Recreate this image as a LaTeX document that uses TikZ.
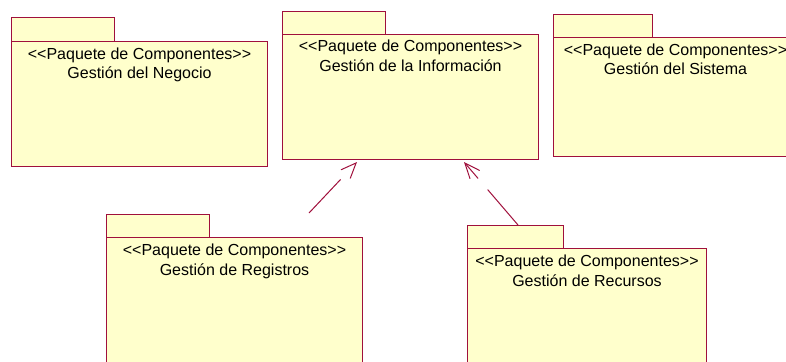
\documentclass[tikz,border=0pt]{standalone}
\usepackage{fontspec}
\setmainfont{Liberation Sans}[Ligatures=NoCommon]
\usetikzlibrary{arrows.meta,calc}
\definecolor{pkgfill}{HTML}{FFFFCC}
\definecolor{pkgline}{HTML}{A0103C}
\newcommand{\stereo}{{<}{<}Paquete de Componentes{>}{>}}
\tikzset{
  pkgbody/.style={draw=pkgline, fill=pkgfill, line width=0.75pt, inner sep=0pt, anchor=north west},
  pkgtab/.style={draw=pkgline, fill=pkgfill, line width=0.75pt},
  pkgtext/.style={anchor=base, inner sep=0pt, font=\fontsize{12pt}{14pt}\selectfont},
  dep/.style={draw=pkgline, line width=0.75pt, -{Straight Barb[length=11.5pt,width=9.5pt,line width=0.75pt]}},
}
\begin{document}
\begin{tikzpicture}[x=0.75pt,y=-0.75pt]
\useasboundingbox (0,0) rectangle (786,361);
\clip (0,0) rectangle (786,361);
% Gestion del Negocio
\draw[pkgtab] (11,17) rectangle (114,41);
\node[pkgbody, minimum width=192pt, minimum height=93.75pt] (P1) at (11,41) {};
\node[pkgtext] (P1s) at ($(P1.north)+(0,18)$) {\stereo};
\node[pkgtext] (P1n) at ($(P1.north)+(0,37)$) {Gestión del Negocio};
% Gestion de la Informacion
\draw[pkgtab] (282,11) rectangle (385,34);
\node[pkgbody, minimum width=192pt, minimum height=93.75pt] (P2) at (282,34) {};
\node[pkgtext] (P2s) at ($(P2.north)+(0,17.5)$) {\stereo};
\node[pkgtext] (P2n) at ($(P2.north)+(0,37)$) {Gestión de la Información};
% Gestion del Sistema
\draw[pkgtab] (553,14) rectangle (652,37);
\node[pkgbody, minimum width=183pt, minimum height=89.25pt] (P3) at (553,37) {};
\node[pkgtext] (P3s) at ($(P3.north)+(0,18)$) {\stereo};
\node[pkgtext] (P3n) at ($(P3.north)+(0,37)$) {Gestión del Sistema};
% Gestion de Registros
\draw[pkgtab] (106,214) rectangle (209,237);
\node[pkgbody, minimum width=192pt, minimum height=99.75pt] (P4) at (106,237) {};
\node[pkgtext] (P4s) at ($(P4.north)+(0,18.5)$) {\stereo};
\node[pkgtext] (P4n) at ($(P4.north)+(0,38)$) {Gestión de Registros};
% Gestion de Recursos
\draw[pkgtab] (467,225) rectangle (563,248);
\node[pkgbody, minimum width=179.25pt, minimum height=99pt] (P5) at (467,248) {};
\node[pkgtext] (P5s) at ($(P5.north)+(0,18.5)$) {\stereo};
\node[pkgtext] (P5n) at ($(P5.north)+(0,38)$) {Gestión de Recursos};
% dependencies
\coordinate (d1s) at (309,213);
\coordinate (d1e) at ($(P2.south west)+(75,2)$);
\coordinate (d2s) at (518,225);
\coordinate (d2e) at ($(P2.south west)+(182,2)$);
\draw[dep, dash pattern=on 34.5pt off 30pt] (d1s) -- (d1e);
\draw[dep, dash pattern=on 35pt off 11pt on 30pt] (d2s) -- (d2e);
\end{tikzpicture}
\end{document}
